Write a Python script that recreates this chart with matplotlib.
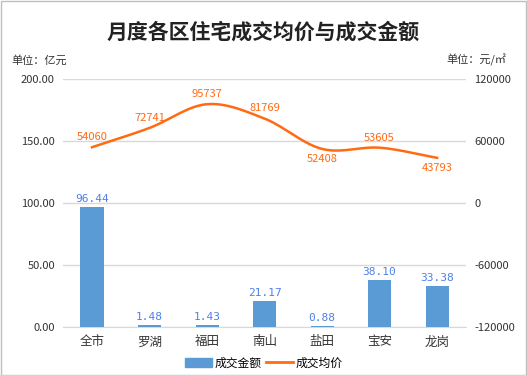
import numpy as np
import matplotlib
matplotlib.use("Agg")
import matplotlib.pyplot as plt
from matplotlib.patches import Rectangle
from matplotlib.lines import Line2D

plt.rcParams['font.family'] = ['Noto Sans CJK SC', 'DejaVu Sans']

categories = ["全市", "罗湖", "福田", "南山", "盐田", "宝安", "龙岗"]
amount = [96.44, 1.48, 1.43, 21.17, 0.88, 38.10, 33.38]
price = [54060, 72741, 95737, 81769, 52408, 53605, 43793]
price_label_below = [False, False, False, False, True, False, True]
left_ticks = [0, 50, 100, 150, 200]
right_ticks = [-120000, -60000, 0, 60000, 120000]

bar_color = "#5B9BD5"
line_color = "#FF6A13"
bar_text = "#4F7FE8"

fig = plt.figure(figsize=(5.27, 3.75), dpi=100)
fig.patch.set_facecolor("white")
ax = fig.add_axes([0.12, 0.128, 0.764, 0.661])
ax2 = ax.twinx()

x = np.arange(len(categories))
ax.bar(x, amount, width=0.4, color=bar_color, zorder=3)
ax.set_xlim(-0.5, len(categories) - 0.5)
ax.set_ylim(left_ticks[0], left_ticks[-1])
ax.set_yticks(left_ticks)
ax.set_yticklabels([f"{v:.2f}" for v in left_ticks], fontsize=8, color="#333333")
ax.set_xticks(x)
ax.set_xticklabels(categories, fontsize=9, color="#333333")
ax.grid(axis='y', color="#D9D9D9", lw=1, zorder=0)
ax.set_axisbelow(True)
for s in ["top", "right", "left"]:
    ax.spines[s].set_visible(False)
ax.spines["bottom"].set_color("#D9D9D9")
ax.tick_params(axis='both', length=0, pad=6)
for xi, v in zip(x, amount):
    ax.text(xi, v + 2.5, f"{v:.2f}", ha='center', va='bottom', fontsize=8, color=bar_text,
            family='DejaVu Sans Mono')

# Catmull-Rom smoothing of the line through the data points
def catmull(xs, ys, n=30):
    px = np.concatenate([[2 * xs[0] - xs[1]], xs, [2 * xs[-1] - xs[-2]]])
    py = np.concatenate([[2 * ys[0] - ys[1]], ys, [2 * ys[-1] - ys[-2]]])
    ox, oy = [], []
    for i in range(1, len(px) - 2):
        t = np.linspace(0, 1, n, endpoint=False)
        for arr, out in ((px, ox), (py, oy)):
            p0, p1, p2, p3 = arr[i - 1], arr[i], arr[i + 1], arr[i + 2]
            out.extend(0.5 * ((2 * p1) + (-p0 + p2) * t +
                              (2 * p0 - 5 * p1 + 4 * p2 - p3) * t ** 2 +
                              (-p0 + 3 * p1 - 3 * p2 + p3) * t ** 3))
    ox.append(xs[-1]); oy.append(ys[-1])
    return np.array(ox), np.array(oy)

sx, sy = catmull(x.astype(float), np.array(price, dtype=float))
ax2.plot(sx, sy, color=line_color, lw=1.8, zorder=4)
ax2.set_ylim(right_ticks[0], right_ticks[-1])
ax2.set_yticks(right_ticks)
ax2.set_yticklabels([str(v) for v in right_ticks], fontsize=8, color="#333333")
ax2.tick_params(axis='y', length=0, pad=6)
for s in ax2.spines.values():
    s.set_visible(False)
for xi, v, below in zip(x, price, price_label_below):
    off = -5000 if below else 5000
    ax2.text(xi, v + off, str(v), ha='center', va='top' if below else 'bottom',
             fontsize=8, color=line_color)

fig.text(0.5, 0.915, "月度各区住宅成交均价与成交金额", ha='center', va='center',
         fontsize=15, fontweight='semibold', color="#222222")
fig.text(0.022, 0.84, "单位：亿元", ha='left', va='center', fontsize=8, color="#333333")
fig.text(0.96, 0.84, "单位：元/㎡", ha='right', va='center', fontsize=8, color="#333333")

handles = [Rectangle((0, 0), 1, 1, color=bar_color), Line2D([0], [0], color=line_color, lw=2)]
fig.legend(handles, ["成交金额", "成交均价"], loc='center', bbox_to_anchor=(0.5, 0.032),
           ncol=2, frameon=False, fontsize=8.5, handlelength=2.3, handleheight=0.7,
           columnspacing=0.4, handletextpad=0.2)

fig.patches.append(Rectangle((0.001, 0.001), 0.997, 0.997, transform=fig.transFigure,
                             fill=False, edgecolor="#BFBFBF", lw=1))
fig.savefig("out.png", dpi=100)
